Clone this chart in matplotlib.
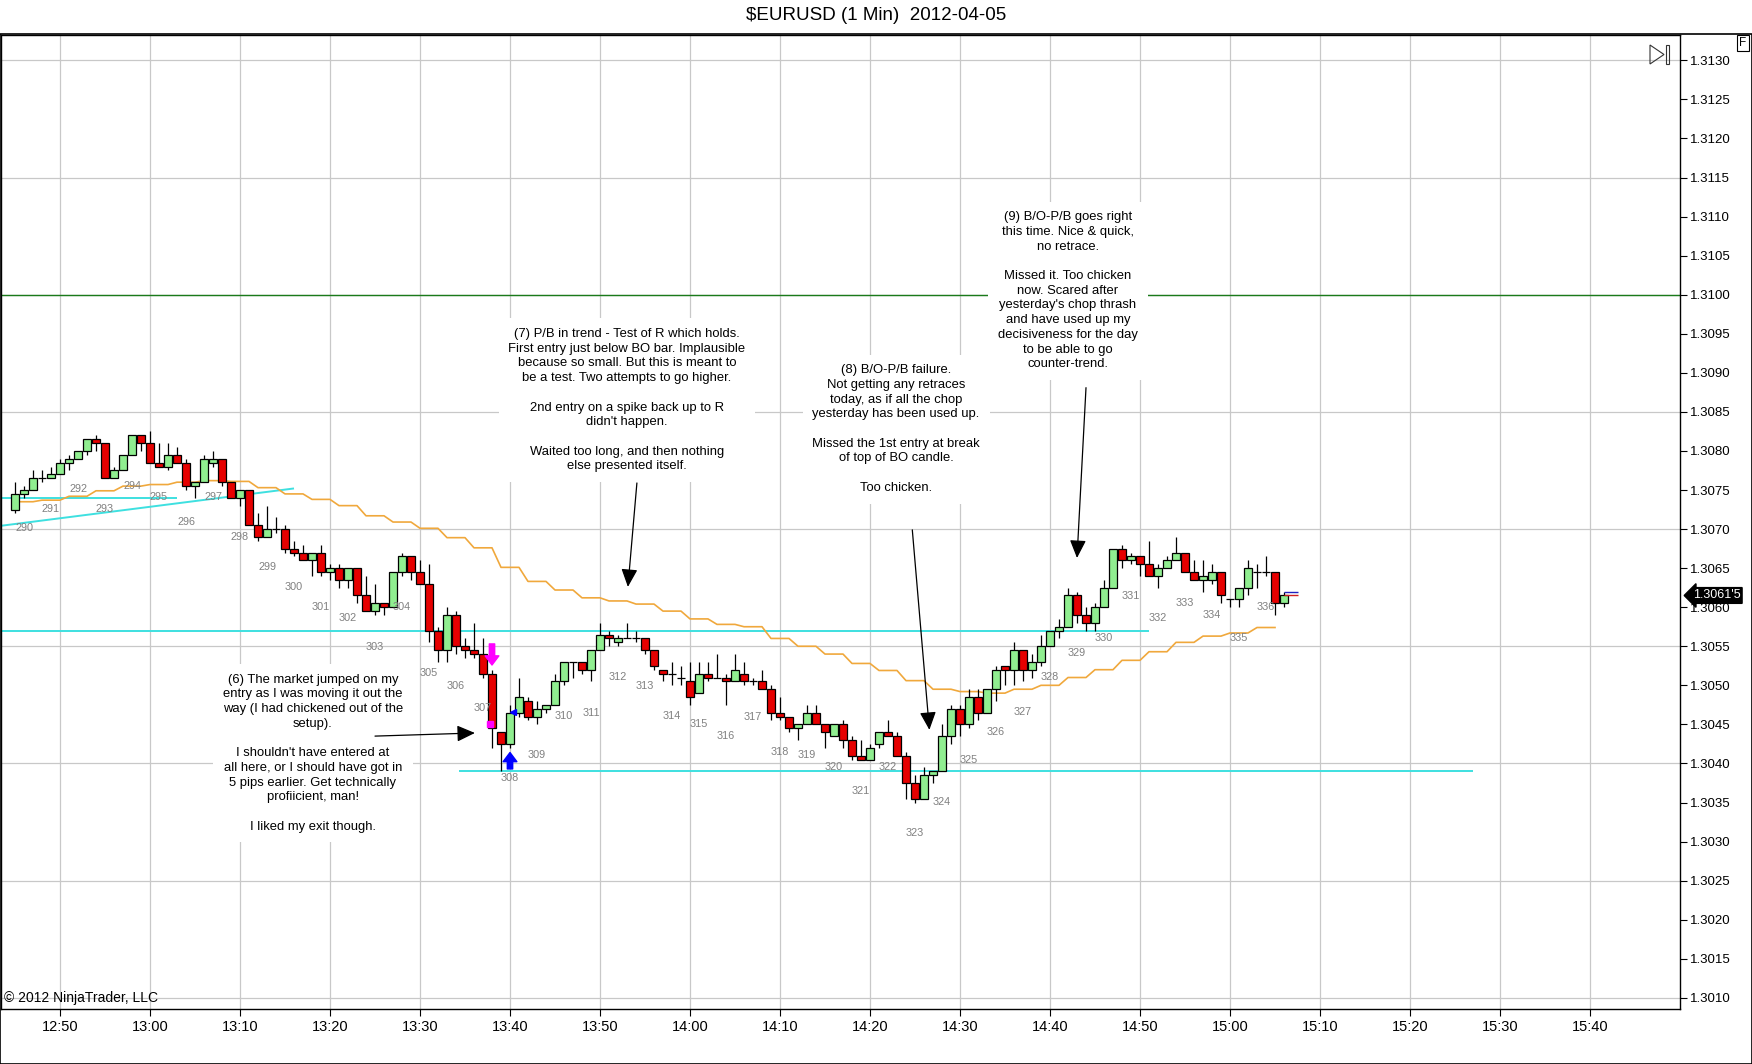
import matplotlib
matplotlib.use("Agg")
import matplotlib.pyplot as plt
import numpy as np
from matplotlib import font_manager
from matplotlib.patches import Rectangle, Polygon
from matplotlib.transforms import blended_transform_factory

# fonts: Arial-like for most text, narrow face for the time axis if present
installed = {f.name for f in font_manager.fontManager.ttflist}
base_font = 'Liberation Sans' if 'Liberation Sans' in installed else 'DejaVu Sans'
narrow_font = 'Liberation Sans Narrow' if 'Liberation Sans Narrow' in installed else base_font
plt.rcParams['font.family'] = [base_font, 'DejaVu Sans']

# ---- data (1 min bars, first bar 12:45) ----
first_bar = "12:45"

opens = [1.30725, 1.30745, 1.30750, 1.30765, 1.30765, 1.30770, 1.30785, 1.30790, 1.30800, 1.30815,
         1.30810, 1.30765, 1.30775, 1.30795, 1.30820, 1.30810, 1.30785, 1.30780, 1.30795, 1.30785,
         1.30755, 1.30760, 1.30785, 1.30790, 1.30760, 1.30740, 1.30750, 1.30705, 1.30690, 1.30700,
         1.30700, 1.30675, 1.30670, 1.30660, 1.30670, 1.30645, 1.30650, 1.30635, 1.30650, 1.30615,
         1.30595, 1.30605, 1.30600, 1.30645, 1.30665, 1.30645, 1.30630, 1.30570, 1.30545, 1.30590,
         1.30550, 1.30545, 1.30540, 1.30515, 1.30440, 1.30425, 1.30465, 1.30480, 1.30460, 1.30470,
         1.30475, 1.30505, 1.30530, 1.30530, 1.30520, 1.30545, 1.30565, 1.30555, 1.30560, 1.30560,
         1.30560, 1.30545, 1.30520, 1.30515, 1.30510, 1.30505, 1.30490, 1.30515, 1.30510, 1.30510,
         1.30505, 1.30515, 1.30505, 1.30505, 1.30495, 1.30465, 1.30460, 1.30445, 1.30450, 1.30465,
         1.30450, 1.30435, 1.30450, 1.30430, 1.30410, 1.30405, 1.30425, 1.30440, 1.30435, 1.30410,
         1.30375, 1.30355, 1.30385, 1.30390, 1.30435, 1.30470, 1.30450, 1.30485, 1.30465, 1.30495,
         1.30525, 1.30520, 1.30545, 1.30520, 1.30530, 1.30550, 1.30570, 1.30575, 1.30615, 1.30590,
         1.30580, 1.30600, 1.30625, 1.30675, 1.30660, 1.30665, 1.30655, 1.30640, 1.30650, 1.30660,
         1.30670, 1.30645, 1.30635, 1.30635, 1.30645, 1.30610, 1.30610, 1.30625, 1.30645, 1.30645,
         1.30645, 1.30605]

highs = [1.30760, 1.30755, 1.30775, 1.30775, 1.30780, 1.30790, 1.30795, 1.30800, 1.30815, 1.30820,
         1.30810, 1.30780, 1.30795, 1.30820, 1.30820, 1.30825, 1.30810, 1.30810, 1.30805, 1.30790,
         1.30760, 1.30795, 1.30800, 1.30790, 1.30760, 1.30750, 1.30750, 1.30720, 1.30730, 1.30715,
         1.30705, 1.30685, 1.30680, 1.30670, 1.30680, 1.30655, 1.30655, 1.30650, 1.30650, 1.30640,
         1.30630, 1.30605, 1.30645, 1.30670, 1.30665, 1.30660, 1.30655, 1.30575, 1.30600, 1.30595,
         1.30560, 1.30580, 1.30560, 1.30520, 1.30440, 1.30475, 1.30510, 1.30485, 1.30480, 1.30475,
         1.30515, 1.30530, 1.30530, 1.30530, 1.30545, 1.30580, 1.30570, 1.30565, 1.30580, 1.30570,
         1.30560, 1.30545, 1.30520, 1.30530, 1.30525, 1.30530, 1.30530, 1.30530, 1.30540, 1.30515,
         1.30540, 1.30530, 1.30510, 1.30520, 1.30500, 1.30485, 1.30460, 1.30450, 1.30475, 1.30475,
         1.30450, 1.30450, 1.30455, 1.30435, 1.30430, 1.30425, 1.30440, 1.30455, 1.30440, 1.30415,
         1.30385, 1.30395, 1.30390, 1.30450, 1.30475, 1.30475, 1.30495, 1.30495, 1.30495, 1.30525,
         1.30525, 1.30555, 1.30545, 1.30540, 1.30565, 1.30570, 1.30585, 1.30625, 1.30620, 1.30600,
         1.30605, 1.30635, 1.30675, 1.30680, 1.30670, 1.30665, 1.30685, 1.30655, 1.30665, 1.30690,
         1.30670, 1.30660, 1.30660, 1.30655, 1.30645, 1.30610, 1.30625, 1.30660, 1.30655, 1.30665,
         1.30645, 1.30620]

lows = [1.30720, 1.30740, 1.30750, 1.30760, 1.30765, 1.30770, 1.30775, 1.30790, 1.30795, 1.30800,
        1.30765, 1.30765, 1.30775, 1.30795, 1.30800, 1.30785, 1.30780, 1.30775, 1.30785, 1.30750,
        1.30740, 1.30760, 1.30780, 1.30755, 1.30740, 1.30730, 1.30705, 1.30685, 1.30690, 1.30695,
        1.30670, 1.30665, 1.30660, 1.30640, 1.30640, 1.30635, 1.30625, 1.30625, 1.30605, 1.30595,
        1.30590, 1.30590, 1.30600, 1.30640, 1.30635, 1.30630, 1.30555, 1.30530, 1.30530, 1.30540,
        1.30535, 1.30535, 1.30510, 1.30420, 1.30390, 1.30420, 1.30460, 1.30455, 1.30450, 1.30465,
        1.30475, 1.30500, 1.30510, 1.30515, 1.30505, 1.30545, 1.30550, 1.30550, 1.30560, 1.30555,
        1.30540, 1.30520, 1.30505, 1.30500, 1.30500, 1.30475, 1.30490, 1.30505, 1.30510, 1.30475,
        1.30505, 1.30500, 1.30500, 1.30495, 1.30455, 1.30455, 1.30440, 1.30430, 1.30450, 1.30450,
        1.30420, 1.30435, 1.30420, 1.30405, 1.30405, 1.30405, 1.30420, 1.30435, 1.30410, 1.30355,
        1.30350, 1.30355, 1.30375, 1.30390, 1.30425, 1.30435, 1.30445, 1.30455, 1.30465, 1.30480,
        1.30500, 1.30500, 1.30505, 1.30510, 1.30525, 1.30550, 1.30560, 1.30575, 1.30580, 1.30570,
        1.30570, 1.30600, 1.30625, 1.30650, 1.30655, 1.30640, 1.30640, 1.30625, 1.30650, 1.30660,
        1.30645, 1.30635, 1.30620, 1.30630, 1.30605, 1.30600, 1.30600, 1.30615, 1.30625, 1.30640,
        1.30590, 1.30600]

closes = [1.30745, 1.30750, 1.30765, 1.30765, 1.30770, 1.30785, 1.30790, 1.30800, 1.30815, 1.30810,
          1.30765, 1.30775, 1.30795, 1.30820, 1.30810, 1.30785, 1.30780, 1.30795, 1.30785, 1.30755,
          1.30760, 1.30790, 1.30790, 1.30760, 1.30740, 1.30750, 1.30705, 1.30690, 1.30700, 1.30700,
          1.30675, 1.30670, 1.30660, 1.30670, 1.30645, 1.30650, 1.30635, 1.30650, 1.30615, 1.30595,
          1.30605, 1.30600, 1.30645, 1.30665, 1.30645, 1.30630, 1.30570, 1.30545, 1.30590, 1.30550,
          1.30545, 1.30540, 1.30515, 1.30445, 1.30425, 1.30465, 1.30485, 1.30460, 1.30470, 1.30475,
          1.30505, 1.30530, 1.30530, 1.30520, 1.30545, 1.30565, 1.30560, 1.30560, 1.30560, 1.30560,
          1.30545, 1.30525, 1.30515, 1.30515, 1.30510, 1.30485, 1.30515, 1.30510, 1.30510, 1.30505,
          1.30520, 1.30505, 1.30505, 1.30495, 1.30465, 1.30460, 1.30445, 1.30450, 1.30465, 1.30450,
          1.30440, 1.30450, 1.30430, 1.30410, 1.30405, 1.30420, 1.30440, 1.30435, 1.30410, 1.30375,
          1.30355, 1.30385, 1.30390, 1.30435, 1.30470, 1.30450, 1.30485, 1.30465, 1.30495, 1.30520,
          1.30520, 1.30545, 1.30520, 1.30530, 1.30550, 1.30570, 1.30575, 1.30615, 1.30590, 1.30580,
          1.30600, 1.30625, 1.30675, 1.30660, 1.30665, 1.30655, 1.30640, 1.30650, 1.30660, 1.30670,
          1.30645, 1.30635, 1.30640, 1.30645, 1.30615, 1.30610, 1.30625, 1.30650, 1.30645, 1.30645,
          1.30605, 1.30615]

# moving average (orange), one value per 3-bar group
ma_values = [1.30735, 1.30737, 1.30742, 1.30749, 1.30755, 1.30757, 1.30760, 1.30762, 1.30761, 1.30753,
             1.30745, 1.30738, 1.30730, 1.30717, 1.30709, 1.30701, 1.30689, 1.30676, 1.30651, 1.30633,
             1.30622, 1.30612, 1.30608, 1.30604, 1.30595, 1.30585, 1.30578, 1.30575, 1.30560, 1.30550,
             1.30540, 1.30528, 1.30519, 1.30506, 1.30495, 1.30492, 1.30490, 1.30495, 1.30500, 1.30510,
             1.30520, 1.30532, 1.30543, 1.30555, 1.30563, 1.30567, 1.30574]

# bar counts (gray numbers), one per 3-bar group, with the price they sit at
count_first = 290
count_prices = [1.30701, 1.30726, 1.30751, 1.30726, 1.30755, 1.30741, 1.30709, 1.30741, 1.30690, 1.30651,
                1.30626, 1.30600, 1.30586, 1.30549, 1.30600, 1.30516, 1.30499, 1.30471, 1.30381, 1.30411,
                1.30461, 1.30465, 1.30511, 1.30499, 1.30461, 1.30450, 1.30435, 1.30459, 1.30415, 1.30411,
                1.30395, 1.30365, 1.30395, 1.30311, 1.30351, 1.30404, 1.30440, 1.30466, 1.30511, 1.30541,
                1.30560, 1.30614, 1.30586, 1.30605, 1.30590, 1.30560, 1.30600]

time_labels = ["12:50", "13:00", "13:10", "13:20", "13:30", "13:40", "13:50", "14:00", "14:10",
               "14:20", "14:30", "14:40", "14:50", "15:00", "15:10", "15:20", "15:30", "15:40"]

price_ticks = np.round(np.arange(1.3010, 1.31301, 0.0005), 4)
grid_prices = np.round(np.arange(1.3010, 1.31301, 0.0015), 4)

# drawn lines: (start time, start price, end time, end price)
cyan_lines = [("12:44", 1.30740, "13:03", 1.30740),
              ("12:44", 1.30704, "13:16", 1.30752),
              ("12:44", 1.30570, "14:51", 1.30570),
              ("13:35", 1.30390, "15:27", 1.30390)]
green_level = 1.3100
last_price = 1.30615

notes = [
    ("(6) The market jumped on my\nentry as I was moving it out the\nway (I had chickened out of the\n"
     "setup).\n\nI shouldn't have entered at\nall here, or I should have got in\n5 pips earlier. "
     "Get technically\nprofiicient, man!\n\nI liked my exit though.", 798.1, 1.30413),
    ("(7) P/B in trend - Test of R which holds.\nFirst entry just below BO bar. Implausible\n"
     "because so small. But this is meant to\nbe a test. Two attempts to go higher.\n\n"
     "2nd entry on a spike back up to R\ndidn't happen.\n\nWaited too long, and then nothing\n"
     "else presented itself.", 833.0, 1.30865),
    ("(8) B/O-P/B failure.\nNot getting any retraces\ntoday, as if all the chop\n"
     "yesterday has been used up.\n\nMissed the 1st entry at break\nof top of BO candle.\n\n"
     "Too chicken.", 862.9, 1.30828),
    ("(9) B/O-P/B goes right\nthis time. Nice & quick,\nno retrace.\n\nMissed it. Too chicken\n"
     "now. Scared after\nyesterday's chop thrash\nand have used up my\ndecisiveness for the day\n"
     "to be able to go\ncounter-trend.", 882.0, 1.31005),
]
note_arrows = [((805.0, 1.30435), (816.1, 1.30439)),
               ((834.1, 1.30759), (833.1, 1.30626)),
               ((864.7, 1.30699), (866.6, 1.30443)),
               ((884.0, 1.30881), (883.0, 1.30663))]


def to_min(s):
    h, m = s.split(":")
    return int(h) * 60 + int(m)


W, H = 1752, 1064


def fig_xy(x, y):
    # image pixel -> figure fraction
    return x / W, 1 - y / H


o = np.array(opens)
h = np.array(highs)
l = np.array(lows)
c = np.array(closes)
t = to_min(first_bar) + np.arange(len(o))

fig = plt.figure(figsize=(W / 100, H / 100), dpi=100)
ax = fig.add_axes([1 / W, 1 - 1009 / H, 1679 / W, 974 / H])
ax.set_xlim(t[0] - 1.556, t[0] + 185.0)
ax.set_ylim(1.300857, 1.313324)

# grid
for gp in grid_prices:
    ax.axhline(gp, color='#c8c8c8', lw=0.9, zorder=0)
tick_pos = [to_min(s) for s in time_labels]
for tp in tick_pos:
    ax.axvline(tp, color='#c8c8c8', lw=0.9, zorder=0)

ax.axhline(green_level, color='#1a7a1a', lw=1.0, zorder=1)

for x0, y0, x1, y1 in cyan_lines:
    ax.plot([to_min(x0) - 0.7, to_min(x1)], [y0, y1], color='#3ee0e0', lw=1.4, zorder=2,
            solid_capstyle='butt')

# moving average, stepped per 3-bar group
ma_x = t[:3 * len(ma_values)]
ma_y = np.repeat(ma_values, 3)
ax.plot(ma_x, ma_y, color='#f0a83c', lw=1.2, zorder=2)

# candles
ax.vlines(t, l, h, color='black', lw=0.9, zorder=3)
up = c > o
dn = c < o
eq = c == o
ax.bar(t[up], (c - o)[up], bottom=o[up], width=0.78, color='#90ee90', edgecolor='black',
       lw=0.9, zorder=4)
ax.bar(t[dn], (o - c)[dn], bottom=c[dn], width=0.78, color='#e60000', edgecolor='black',
       lw=0.9, zorder=4)
ax.hlines(c[eq], t[eq] - 0.39, t[eq] + 0.39, color='black', lw=0.9, zorder=4)

# short lines at the last bar
ax.hlines([1.30620], t[-1], t[-1] + 1.5, color='#2020c0', lw=1.0, zorder=5)
ax.hlines([1.30615], t[-1], t[-1] + 1.5, color='#d02020', lw=1.0, zorder=5)

# bar counts
for k, cp in enumerate(count_prices):
    ax.text(t[3 * k + 1], cp, str(count_first + k), ha='center', va='center', fontsize=7.8,
            color='#808080', zorder=5)

# execution markers
ax.annotate('', xy=(t[53], 1.30526), xytext=(t[53], 1.30553),
            arrowprops=dict(arrowstyle='simple,head_length=0.6,head_width=0.9,tail_width=0.35',
                            color='#ff00ff', shrinkA=0, shrinkB=0, mutation_scale=11), zorder=6)
ax.plot([t[53] - 0.25], [1.30450], marker='s', ms=4, color='#ff00ff', zorder=6)
ax.annotate('', xy=(t[55], 1.30414), xytext=(t[55], 1.30393),
            arrowprops=dict(arrowstyle='simple,head_length=0.6,head_width=0.9,tail_width=0.35',
                            color='#0000ff', shrinkA=0, shrinkB=0, mutation_scale=11), zorder=6)
ax.plot([t[55] + 0.3], [1.30466], marker='<', ms=5, color='#0000ff', zorder=6)

# notes
for txt, nx, ny in notes:
    ax.text(nx, ny, txt, ha='center', va='center', multialignment='center', fontsize=9.4,
            color='black', linespacing=1.3, zorder=7,
            bbox=dict(facecolor='white', edgecolor='none', pad=7))
for (sx, sy), (ex, ey) in note_arrows:
    ax.annotate('', xy=(ex, ey), xytext=(sx, sy), zorder=8,
                arrowprops=dict(arrowstyle='-|>,head_length=0.55,head_width=0.25', color='black',
                                lw=0.9, shrinkA=0, shrinkB=0, mutation_scale=20))

# axes styling
for sp in ax.spines.values():
    sp.set_color('black')
    sp.set_linewidth(1.0)
ax.yaxis.tick_right()
ax.set_yticks(price_ticks)
ax.set_yticklabels([f"{p:.4f}" for p in price_ticks])
ax.tick_params(axis='y', direction='out', length=5, width=0.8, labelsize=9.5, pad=2)
ax.set_xticks(tick_pos)
ax.set_xticklabels(time_labels, fontfamily=narrow_font)
ax.tick_params(axis='x', direction='out', length=5, width=0.8, labelsize=10.5, pad=3)

ax.text(0.002, 0.004, "\u00a9 2012 NinjaTrader, LLC", transform=ax.transAxes, ha='left',
        va='bottom', fontsize=10, fontfamily=narrow_font, zorder=9)

# last price tag on the axis
blend = blended_transform_factory(ax.transAxes, ax.transData)
ax.text(1.0075, last_price, "1.3061'5", transform=blend, ha='left', va='center', fontsize=9,
        color='white', clip_on=False, zorder=10,
        bbox=dict(boxstyle='larrow,pad=0.15', facecolor='black', edgecolor='black'))

# title and frame
fig.text(0.5, 1 - 16 / H, r"\$EURUSD (1 Min)  2012-04-05", ha='center', va='center', fontsize=13.5)
fig.patches.append(Rectangle((0, 0), 1, 1 - 34 / H, transform=fig.transFigure, fill=False,
                             edgecolor='black', lw=1.2))
# "F" box and the scroll-to-end glyph
fx, fy = fig_xy(1743, 43)
fig.text(fx, fy, "F", ha='center', va='center', fontsize=8.5,
         bbox=dict(boxstyle='square,pad=0.2', facecolor='white', edgecolor='black', lw=0.8))
tri = [fig_xy(1650, 45), fig_xy(1650, 64), fig_xy(1664, 54.5)]
fig.patches.append(Polygon(tri, closed=True, fill=False, edgecolor='#333333', lw=0.8,
                           transform=fig.transFigure))
rx, ry = fig_xy(1666, 64)
fig.patches.append(Rectangle((rx, ry), 3 / W, 19 / H, fill=False, edgecolor='#333333', lw=0.8,
                             transform=fig.transFigure))

fig.savefig("out.png", dpi=100)
